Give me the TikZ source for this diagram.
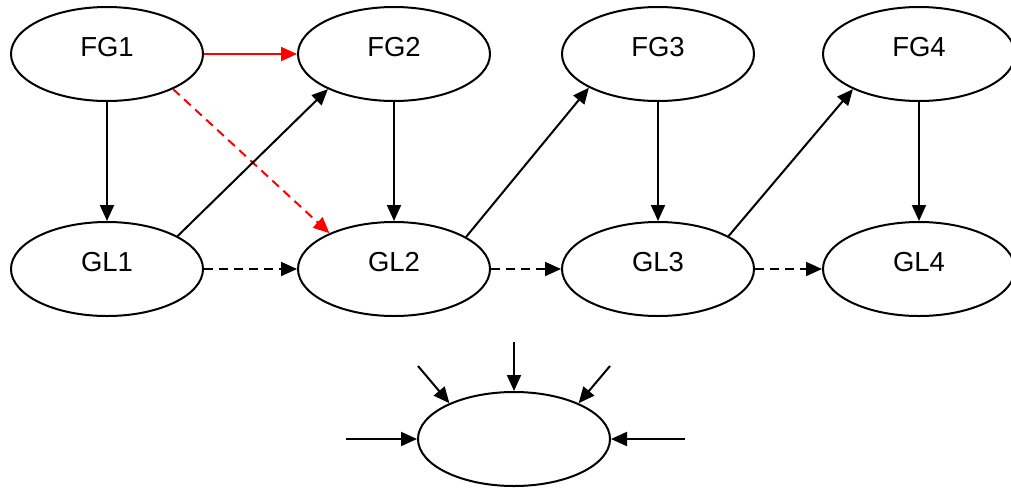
\documentclass[tikz,border=0pt]{standalone}
\usepackage{fontspec}
\setmainfont{Liberation Sans}
\usetikzlibrary{shapes.geometric,arrows.meta}
\begin{document}
\begin{tikzpicture}[x=1pt,y=-1pt,
  ell/.style={draw=black,line width=2pt,ellipse,minimum width=192pt,minimum height=94pt,inner sep=0pt,
    font=\fontsize{27.5}{33}\selectfont,text height=20pt,text depth=16pt},
  arr/.style={line width=2pt,-{Triangle[length=16pt,width=14pt]}},
  dsh/.style={arr,dash pattern=on 9pt off 6pt},
  redarr/.style={arr,red}
]
\useasboundingbox (0,0) rectangle (1011,488);
\node[ell] (FG1) at (107,54) {FG1};
\node[ell] (FG2) at (394,54) {FG2};
\node[ell] (FG3) at (658,54) {FG3};
\node[ell] (FG4) at (919,54) {FG4};
\node[ell] (GL1) at (107,269) {GL1};
\node[ell] (GL2) at (394,269) {GL2};
\node[ell] (GL3) at (658,269) {GL3};
\node[ell] (GL4) at (919,269) {GL4};
\node[ell] (B) at (514,439) {};

\draw[redarr] (FG1.east) -- (FG2.west);
\draw[redarr,dash pattern=on 9pt off 6pt] (FG1.-28) -- (GL2.151);
\draw[arr] (FG1.south) -- (GL1.north);
\draw[arr] (FG2.south) -- (GL2.north);
\draw[arr] (FG3.south) -- (GL3.north);
\draw[arr] (FG4.south) -- (GL4.north);
\draw[arr] (GL1.25) -- (FG2.-152);
\draw[arr] (GL2.24) -- (FG3.-154);
\draw[arr] (GL3.25) -- (FG4.-152);
\draw[dsh] (GL1.east) -- (GL2.west);
\draw[dsh] (GL2.east) -- (GL3.west);
\draw[dsh] (GL3.east) -- (GL4.west);

\coordinate (bl) at (346,439);
\coordinate (br) at (685,439);
\coordinate (bt) at (514,342);
\coordinate (bul) at (418,366);
\coordinate (bur) at (610,366);
\draw[arr] (bl) -- (B.west);
\draw[arr] (br) -- (B.east);
\draw[arr] (bt) -- (B.north);
\draw[arr] (bul) -- (B.151);
\draw[arr] (bur) -- (B.29);
\end{tikzpicture}
\end{document}
